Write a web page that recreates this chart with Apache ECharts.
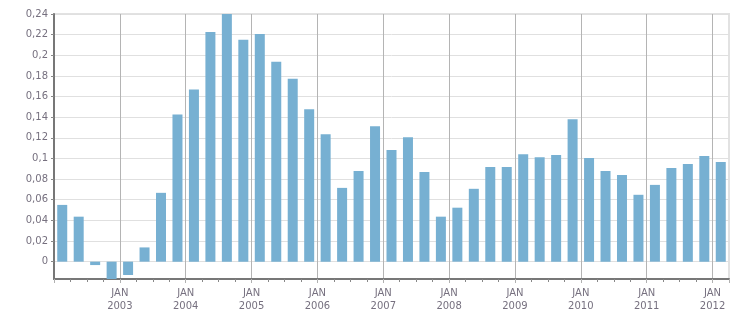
<!DOCTYPE html>
<html>
<head>
<meta charset="utf-8">
<script src="https://cdn.jsdelivr.net/npm/echarts@6/dist/echarts.min.js"></script>
<style>
html,body{margin:0;padding:0;background:#fff;}
#chart{width:751px;height:313px;}
</style>
</head>
<body>
<div id="chart"></div>
<script>
// Quarterly periods (year, quarter)
const years = [2002,2002,2002,2002,2003,2003,2003,2003,2004,2004,2004,2004,2005,2005,2005,2005,2006,2006,2006,2006,2007,2007,2007,2007,2008,2008,2008,2008,2009,2009,2009,2009,2010,2010,2010,2010,2011,2011,2011,2011,2012];
const quarters = [1,2,3,4,1,2,3,4,1,2,3,4,1,2,3,4,1,2,3,4,1,2,3,4,1,2,3,4,1,2,3,4,1,2,3,4,1,2,3,4,1];
const values = [0.055,0.0436,-0.0033,-0.017,-0.0129,0.0138,0.0667,0.1427,0.1668,0.2226,0.24,0.215,0.2207,0.1937,0.1773,0.1476,0.1234,0.0715,0.0879,0.1312,0.1081,0.1206,0.0869,0.0436,0.0523,0.0706,0.0917,0.0917,0.1042,0.1013,0.1033,0.1379,0.1004,0.0879,0.084,0.0648,0.0744,0.0908,0.0946,0.1023,0.0965];
const monthLabel = 'JAN';
const xMin = 2002, xMax = 2012.25;
const yMin = -0.0168, yMax = 0.24;

const data = values.map((v,i) => [years[i] + (quarters[i]-0.5)/4, v]);

const chart = echarts.init(document.getElementById('chart'));
const txt = '#76707f';
chart.setOption({
  animation:false,
  grid:{left:54,right:22,top:14,bottom:32,show:true,borderColor:'#e2e2e2',borderWidth:2,backgroundColor:'transparent'},
  xAxis:{
    type:'value', min:xMin, max:xMax, interval:1,
    axisLine:{show:true,onZero:false,lineStyle:{color:'#777',width:2}},
    axisTick:{show:true,length:4,lineStyle:{color:'#b0b0b0'}},
    minorTick:{show:true,splitNumber:4,length:3,lineStyle:{color:'#888'}},
    splitLine:{show:true,showMinLine:false,showMaxLine:false,lineStyle:{color:'#b4b4b4',width:1}},
    axisLabel:{showMinLabel:false,showMaxLabel:false,color:txt,fontFamily:'DejaVu Sans',fontSize:10,lineHeight:13,margin:8,
      formatter:v => Number.isInteger(v) ? monthLabel+'\n'+v : ''}
  },
  yAxis:{
    type:'value', min:yMin, max:yMax, splitNumber:12, minInterval:0.02, maxInterval:0.02,
    axisLine:{show:true,onZero:false,lineStyle:{color:'#777',width:2}},
    axisTick:{show:true,length:3,lineStyle:{color:'#888'}},
    splitLine:{show:true,showMinLine:false,lineStyle:{color:'#e0e0e0',width:1}},
    axisLabel:{showMinLabel:false,color:txt,fontFamily:'DejaVu Sans',fontSize:10,margin:6,
      formatter:v => String(Math.round(v*100)/100).replace('.',',')}
  },
  series:[{type:'bar',data:data,barWidth:10,itemStyle:{color:'#77b0d2'},clip:true}]
});
</script>
</body>
</html>
